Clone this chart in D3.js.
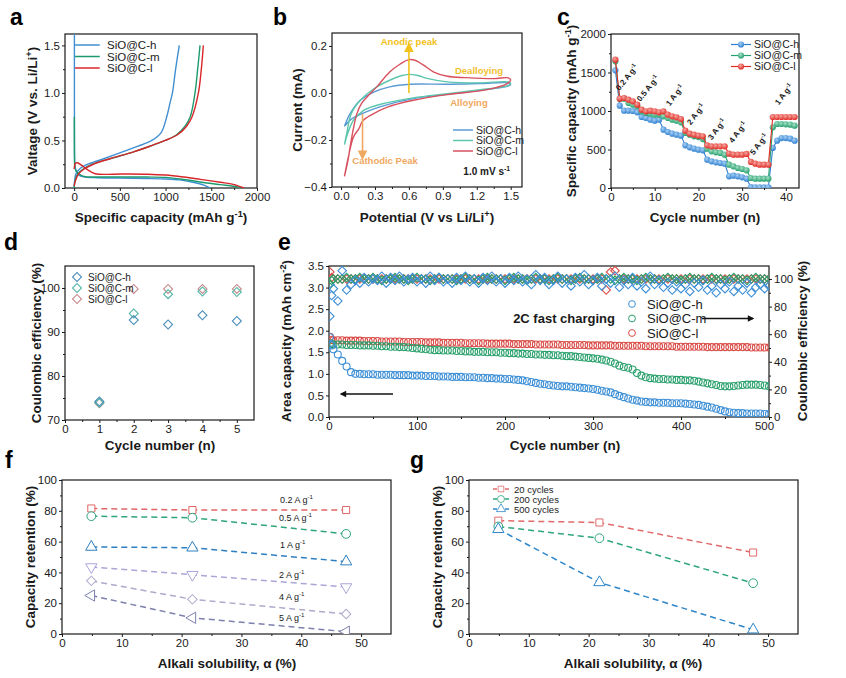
<!DOCTYPE html>
<html><head><meta charset="utf-8">
<script src="https://cdn.jsdelivr.net/npm/d3@7"></script>
<style>body{margin:0;background:#fff} svg{display:block;font-family:Arial,"Liberation Sans",sans-serif}</style>
</head><body><svg id="chart" width="846" height="678"></svg>
<script>
// ---------------- DATA ----------------
// a: galvanostatic curves [capacity, voltage]
const aHDis = [[3,1.62],[3,1.0],[4,0.5],[6,0.3],[12,0.22],[30,0.16],[60,0.13],[120,0.115],[250,0.108],[500,0.105],[800,0.1],[1000,0.095],[1150,0.085],[1300,0.06],[1420,0.03],[1490,0.0]];
const aMDis = [[2,0.75],[3,0.4],[5,0.25],[15,0.19],[50,0.15],[105,0.122],[250,0.116],[500,0.115],[800,0.115],[1000,0.112],[1200,0.09],[1380,0.063],[1600,0.035],[1740,0.018],[1850,0.0]];
const aLDis = [[0,0.2],[15,0.26],[36,0.265],[80,0.24],[150,0.19],[230,0.15],[530,0.148],[800,0.145],[1000,0.136],[1200,0.115],[1380,0.091],[1600,0.06],[1740,0.038],[1860,0.0]];
const aHChg = [[0,0],[6,0.08],[20,0.15],[60,0.2],[150,0.25],[300,0.3],[500,0.37],[700,0.44],[849,0.5],[950,0.58],[1013,0.75],[1050,0.9],[1075,1.0],[1110,1.25],[1150,1.5]];
const aMChg = [[0,0],[10,0.08],[40,0.15],[100,0.2],[200,0.25],[400,0.31],[650,0.38],[830,0.44],[995,0.5],[1120,0.56],[1213,0.65],[1270,0.75],[1322,1.0],[1351,1.25],[1377,1.5]];
const aLChg = [[0,0.02],[15,0.08],[50,0.15],[110,0.2],[210,0.25],[400,0.31],[650,0.38],[830,0.44],[995,0.5],[1130,0.56],[1230,0.65],[1290,0.75],[1359,1.0],[1391,1.25],[1413,1.5]];
const aTicksX = [0,500,1000,1500,2000];
const aTicksY = [0,0.5,1.0,1.5];

// b: CV loops [potential, current]
const bL = [[0.03,-0.355],[0.06,-0.29],[0.08,-0.23],[0.11,-0.15],[0.14,-0.088],[0.18,-0.045],[0.23,-0.017],[0.32,0.028],[0.43,0.089],[0.52,0.122],[0.6,0.142],[0.66,0.138],[0.73,0.118],[0.82,0.089],[0.94,0.071],[1.11,0.065],[1.35,0.061],[1.48,0.064],[1.5,0.055],[1.47,0.04],[1.29,0.014],[0.94,-0.007],[0.64,-0.031],[0.41,-0.06],[0.26,-0.095],[0.19,-0.12],[0.16,-0.15],[0.11,-0.187],[0.065,-0.272],[0.03,-0.355]];
const bM = [[0.03,-0.22],[0.05,-0.173],[0.09,-0.088],[0.17,-0.031],[0.29,0.018],[0.43,0.054],[0.53,0.073],[0.6,0.079],[0.68,0.074],[0.76,0.062],[0.94,0.047],[1.23,0.043],[1.48,0.047],[1.5,0.04],[1.47,0.03],[1.23,0.014],[0.94,-0.003],[0.64,-0.021],[0.35,-0.048],[0.2,-0.074],[0.11,-0.116],[0.06,-0.17],[0.03,-0.22]];
const bH = [[0.03,-0.142],[0.08,-0.088],[0.17,-0.031],[0.29,0.004],[0.43,0.026],[0.61,0.037],[0.94,0.037],[1.23,0.04],[1.48,0.043],[1.5,0.036],[1.47,0.028],[1.23,0.011],[0.94,-0.006],[0.64,-0.024],[0.35,-0.058],[0.2,-0.085],[0.1,-0.108],[0.03,-0.142]];
const bTicksX = [0,0.3,0.6,0.9,1.2,1.5];
const bTicksY = [-0.4,-0.2,0,0.2];

// c: rate capability
const cCycles = [1,2,3,4,5,6,7,8,9,10,11,12,13,14,15,16,17,18,19,20,21,22,23,24,25,26,27,28,29,30,31,32,33,34,35,36,37,38,39,40,41,42];
const cH = [1528,1069,1004,1004,1000,983,922,909,887,874,887,757,727,705,692,680,554,528,511,498,489,368,346,333,325,316,152,160,152,139,121,13,9,9,9,9,520,615,649,649,641,615];
const cM = [1645,1156,1160,1104,1082,1061,996,974,965,952,952,931,909,887,874,853,714,692,671,662,636,511,476,463,455,433,303,281,260,247,229,130,121,121,121,121,788,831,831,827,823,810];
const cL = [1667,1160,1169,1147,1126,1082,1017,996,1004,996,983,996,952,931,918,896,745,705,692,680,671,554,541,541,541,541,446,433,433,433,442,338,316,303,303,303,922,922,922,922,922,922];
const cRates = ["0.2","0.5","1","2","3","4","5","1"];

// d: initial coulombic efficiency
const dCycles = [1,2,3,4,5];
const dH = [74.2,92.7,91.7,93.8,92.5];
const dM = [73.9,94.2,98.6,99.2,99.1];
const dL = [73.8,99.8,99.8,99.8,99.8];

// e: long cycling at 2C
const eCycles = [1,3,5,10,15,20,25,30,35,40,
 45,50,55,60,65,70,75,80,85,90,
 95,100,105,110,115,120,125,130,135,140,
 145,150,155,160,165,170,175,180,185,190,
 195,200,205,210,215,220,225,230,235,240,
 245,250,255,260,265,270,275,280,285,290,
 295,300,305,310,315,320,325,330,335,340,
 345,350,355,360,365,370,375,380,385,390,
 395,400,405,410,415,420,425,430,435,440,
 445,450,455,460,465,470,475,480,485,490,
 495,500];
const eCapH = [1.85,1.66,1.57,1.45,1.30,1.17,1.04,1.00,1.00,0.99,
 0.99,0.99,0.98,0.98,0.98,0.98,0.97,0.97,0.97,0.97,
 0.96,0.96,0.96,0.95,0.95,0.95,0.94,0.94,0.94,0.93,
 0.93,0.93,0.92,0.92,0.92,0.91,0.91,0.90,0.90,0.89,
 0.89,0.88,0.88,0.87,0.86,0.85,0.83,0.81,0.79,0.77,
 0.76,0.74,0.73,0.72,0.71,0.71,0.70,0.69,0.68,0.67,
 0.66,0.65,0.63,0.61,0.59,0.57,0.53,0.49,0.46,0.43,
 0.40,0.38,0.36,0.35,0.34,0.34,0.33,0.33,0.33,0.32,
 0.32,0.32,0.31,0.30,0.29,0.28,0.26,0.24,0.22,0.19,
 0.16,0.13,0.11,0.10,0.09,0.09,0.08,0.08,0.08,0.08,
 0.07,0.07];
const eCapM = [1.70,1.69,1.68,1.68,1.68,1.67,1.67,1.67,1.66,1.66,
 1.66,1.65,1.65,1.64,1.64,1.63,1.63,1.62,1.62,1.61,
 1.60,1.59,1.58,1.57,1.56,1.55,1.55,1.54,1.54,1.54,
 1.53,1.53,1.52,1.52,1.51,1.51,1.51,1.50,1.50,1.50,
 1.49,1.49,1.48,1.48,1.47,1.47,1.46,1.46,1.45,1.45,
 1.44,1.44,1.43,1.43,1.42,1.41,1.41,1.40,1.39,1.38,
 1.37,1.36,1.35,1.33,1.31,1.28,1.24,1.19,1.16,1.14,
 1.10,1.02,0.96,0.92,0.90,0.89,0.88,0.88,0.87,0.87,
 0.86,0.86,0.85,0.85,0.84,0.82,0.80,0.78,0.76,0.74,
 0.72,0.71,0.71,0.72,0.73,0.74,0.75,0.75,0.75,0.74,
 0.73,0.71];
const eCapL = [1.86,1.79,1.78,1.78,1.78,1.77,1.77,1.77,1.77,1.76,
 1.76,1.76,1.76,1.75,1.75,1.75,1.75,1.75,1.74,1.74,
 1.74,1.74,1.74,1.73,1.73,1.73,1.73,1.72,1.72,1.72,
 1.72,1.72,1.71,1.71,1.71,1.71,1.71,1.70,1.70,1.70,
 1.70,1.70,1.70,1.69,1.69,1.69,1.69,1.69,1.68,1.68,
 1.68,1.68,1.68,1.68,1.67,1.67,1.67,1.67,1.67,1.67,
 1.66,1.66,1.66,1.66,1.66,1.66,1.65,1.65,1.65,1.65,
 1.65,1.65,1.65,1.64,1.64,1.64,1.64,1.64,1.64,1.64,
 1.63,1.63,1.63,1.63,1.63,1.63,1.63,1.62,1.62,1.62,
 1.62,1.62,1.62,1.62,1.62,1.62,1.62,1.61,1.61,1.61,
 1.61,1.61];
const eCEH = [73,88,93,84,106,92,96,99,97,101,
 98,100,99,102,97,101,99,102,98,100,
 101,98,100,97,102,99,101,98,100,97,
 101,99,102,98,100,97,101,99,102,98,
 100,97,101,99,102,98,100,96,103,99,
 101,96,99,102,97,100,95,101,98,103,
 96,99,101,95,100,97,102,94,99,96,
 101,95,98,93,102,96,99,94,97,92,
 98,93,96,91,97,94,99,92,95,90,
 96,93,98,91,95,92,97,90,94,96,
 93,95];
const eCEM = [96,99,100,100,100,101,100,100,101,100,
 100,101,100,99,100,100,101,100,100,99,
 100,101,100,100,99,100,101,100,100,100,
 99,100,101,100,100,99,100,101,100,100,
 100,99,100,101,100,100,99,100,101,100,
 100,99,100,101,100,100,99,100,101,100,
 100,99,100,101,100,100,99,100,101,100,
 100,99,100,101,100,100,99,100,101,100,
 100,99,100,101,100,100,99,100,101,100,
 100,99,100,101,100,100,99,100,101,100,
 100,100];
const eCEL = [105,101,100,100,100,100,100,100,100,100,
 100,100,100,100,100,100,100,100,100,100,
 100,100,100,100,100,100,100,100,100,100,
 100,100,100,100,100,100,100,100,100,100,
 100,100,100,100,100,100,100,100,100,100,
 100,100,100,100,100,100,100,100,100,100,
 100,100,100,100,92,105,106,100,100,100,
 100,100,100,100,100,100,100,100,100,100,
 100,100,100,100,100,100,100,100,100,100,
 100,100,100,100,100,100,100,100,100,100,
 100,100];

// f: capacity retention vs alkali solubility at different rates
const fAlpha = [4.9,21.8,47.5];
const f02 = [81.5,80.5,80.5];
const f05 = [76.5,75.5,65];
const f1 = [56.5,56,47];
const f2 = [43.5,38.5,30.5];
const f4 = [34.5,22.5,13];
const f5 = [25,10.5,1.5];
const fLabels = ["0.2","0.5","1","2","4","5"];

// g: capacity retention vs alkali solubility after cycles
const gAlpha = [4.9,21.8,47.5];
const g20 = [73.6,72.4,52.9];
const g200 = [69.8,62.2,33];
const g500 = [68,33.5,2.8];
const gLabels = ["20 cycles","200 cycles","500 cycles"];
const seriesNames = ["SiO@C-h","SiO@C-m","SiO@C-l"];

// ---------------- HELPERS ----------------
const svg = d3.select('#chart');
const defs = svg.append('defs');
let clipN = 0;
const INK = '#1a1a1a';

function rich(t, parts, size){
  let shift = 0;
  parts.forEach(([s,k]) => {
    const target = k === 'sup' ? -size*0.4 : 0;
    const ts = t.append('tspan').text(s).attr('dy', target - shift);
    if (k === 'sup') ts.attr('font-size', size*0.68);
    shift = target;
  });
}
function label(x, y, parts, o = {}){
  const size = o.size || 12;
  const t = svg.append('text').attr('x', x).attr('y', y).attr('font-size', size)
    .attr('font-weight', o.bold ? 'bold' : 'normal').attr('text-anchor', o.anchor || 'start')
    .attr('fill', o.fill || INK);
  if (o.rot != null) t.attr('transform', `rotate(${o.rot},${x},${y})`);
  rich(t, typeof parts === 'string' ? [[parts,'']] : parts, size);
  return t;
}
function styleAxis(s, fs){
  s.select('.domain').remove();
  s.attr('font-size', fs).attr('font-family', 'Arial, "Liberation Sans", sans-serif');
  s.selectAll('text').attr('fill', INK);
  s.selectAll('line').attr('stroke', INK).attr('stroke-width', 1);
}
function panel(o){
  const x = d3.scaleLinear().domain(o.xd).range([o.x0, o.x1]);
  const y = d3.scaleLinear().domain(o.yd).range([o.y1, o.y0]);
  const fs = o.fs || 11.5;
  const g = svg.append('g');
  const xg = g.append('g').attr('transform', `translate(0,${o.y1})`)
    .call(d3.axisBottom(x).tickValues(o.xt).tickFormat(o.xf || (d => d)).tickSize(3).tickPadding(1.5)).call(s => styleAxis(s, fs));
  if (o.xm) g.append('g').attr('transform', `translate(0,${o.y1})`)
    .call(d3.axisBottom(x).tickValues(o.xm).tickFormat('').tickSize(2)).call(s => styleAxis(s, fs));
  g.append('g').attr('transform', `translate(${o.x0},0)`)
    .call(d3.axisLeft(y).tickValues(o.yt).tickFormat(o.yf || (d => d)).tickSize(3).tickPadding(2)).call(s => styleAxis(s, fs));
  if (o.ym) g.append('g').attr('transform', `translate(${o.x0},0)`)
    .call(d3.axisLeft(y).tickValues(o.ym).tickFormat('').tickSize(2)).call(s => styleAxis(s, fs));
  g.append('rect').attr('x', o.x0).attr('y', o.y0).attr('width', o.x1 - o.x0).attr('height', o.y1 - o.y0)
    .attr('fill', 'none').attr('stroke', INK).attr('stroke-width', 1.2);
  const id = 'clip' + (clipN++);
  defs.append('clipPath').attr('id', id).append('rect')
    .attr('x', o.x0).attr('y', o.y0).attr('width', o.x1 - o.x0).attr('height', o.y1 - o.y0);
  const plot = svg.append('g').attr('clip-path', `url(#${id})`);
  return {x, y, plot, g, xg};
}
const f1d = d3.format('.1f');
const sup = s => [s, 'sup'];
const nrm = s => [s, ''];

// panel letters
[['a',10,25],['b',273,25],['c',557,25],['d',4,250],['e',278,250],['f',5,468],['g',410,468]]
  .forEach(([t,x,y]) => label(x, y, t, {size: 23, bold: true, fill: '#000'}));

// ---------------- PANEL A ----------------
{
  const P = panel({x0:65, x1:257, y0:34, y1:188, xd:[-100,2000], yd:[0,1.62],
    xt:aTicksX, xm:[250,750,1250,1750], yt:aTicksY, ym:[0.25,0.75,1.25], yf:f1d});
  const line = d3.line().x(d => P.x(d[0])).y(d => P.y(d[1])).curve(d3.curveCatmullRom.alpha(0.5));
  const cols = ['#3f8fd2','#1d9a6c','#d8262b'];
  [[aHDis,aHChg],[aMDis,aMChg],[aLDis,aLChg]].forEach((pair, i) => {
    pair.forEach(arr => P.plot.append('path').attr('d', line(arr)).attr('fill','none')
      .attr('stroke', cols[i]).attr('stroke-width', 1.4));
  });
  seriesNames.forEach((n, i) => {
    const yy = 45 + i*11.5;
    svg.append('line').attr('x1', P.x(10)).attr('x2', P.x(280)).attr('y1', yy).attr('y2', yy)
      .attr('stroke', cols[i]).attr('stroke-width', 1.5);
    label(107, yy + 4, n, {size: 11.5});
  });
  label(161, 222, [nrm('Specific capacity (mAh g'), sup('-1'), nrm(')')], {size: 13.5, bold: true, anchor: 'middle'});
  label(37, 111, [nrm('Valtage (V vs. Li/Li'), sup('+'), nrm(')')], {size: 13.5, bold: true, anchor: 'middle', rot: -90});
}

// ---------------- PANEL B ----------------
{
  const P = panel({x0:332, x1:522, y0:33, y1:187, xd:[-0.08,1.6], yd:[-0.4,0.255],
    xt:bTicksX, xm:[0.15,0.45,0.75,1.05,1.35], xf:f1d, yt:bTicksY, ym:[-0.3,-0.1,0.1], yf:f1d});
  const line = d3.line().x(d => P.x(d[0])).y(d => P.y(d[1])).curve(d3.curveCatmullRom.alpha(0.5));
  const cols = ['#5b9bd5','#5cc6ad','#d9505e'];
  [bH, bM, bL].forEach((arr, i) => P.plot.append('path').attr('d', line(arr)).attr('fill','none')
    .attr('stroke', cols[i]).attr('stroke-width', 1.4));
  const yel = '#f3c21a', org = '#f0a860';
  defs.append('marker').attr('id','arrY').attr('viewBox','0 0 10 10').attr('refX',5).attr('refY',5)
    .attr('markerWidth',6).attr('markerHeight',7).attr('orient','auto-start-reverse')
    .append('path').attr('d','M0,0 L10,5 L0,10 z').attr('fill', yel);
  defs.append('marker').attr('id','arrO').attr('viewBox','0 0 10 10').attr('refX',5).attr('refY',5)
    .attr('markerWidth',6).attr('markerHeight',7).attr('orient','auto-start-reverse')
    .append('path').attr('d','M0,0 L10,5 L0,10 z').attr('fill', org);
  svg.append('line').attr('x1', P.x(0.6)).attr('x2', P.x(0.6)).attr('y1', P.y(0)).attr('y2', P.y(0.195))
    .attr('stroke', yel).attr('stroke-width', 1.6).attr('marker-end','url(#arrY)');
  svg.append('line').attr('x1', P.x(0.19)).attr('x2', P.x(0.19)).attr('y1', P.y(-0.09)).attr('y2', P.y(-0.265))
    .attr('stroke', org).attr('stroke-width', 1.6).attr('marker-end','url(#arrO)');
  label(409, 45, 'Anodic peak', {size: 9.5, bold: true, anchor: 'middle', fill: yel});
  label(479, 74, 'Dealloying', {size: 9.5, bold: true, anchor: 'middle', fill: '#f0c030'});
  label(469, 106, 'Alloying', {size: 9.5, bold: true, anchor: 'middle', fill: org});
  label(385, 164, 'Cathodic Peak', {size: 9.5, bold: true, anchor: 'middle', fill: org});
  seriesNames.forEach((n, i) => {
    const yy = 130 + i*10.5;
    svg.append('line').attr('x1', 453).attr('x2', 473).attr('y1', yy).attr('y2', yy)
      .attr('stroke', cols[i]).attr('stroke-width', 1.5);
    label(476, yy + 3.5, n, {size: 10.5});
  });
  label(510, 175, [nrm('1.0 mV s'), sup('-1')], {size: 10, bold: true, anchor: 'end'});
  label(427, 222, [nrm('Potential (V vs Li/Li'), sup('+'), nrm(')')], {size: 13.5, bold: true, anchor: 'middle'});
  label(302, 110, 'Current (mA)', {size: 13.5, bold: true, anchor: 'middle', rot: -90});
}

// ---------------- PANEL C ----------------
{
  const P = panel({x0:611, x1:799, y0:34, y1:188, xd:[0,43], yd:[0,2000],
    xt:[0,10,20,30,40], xm:[5,15,25,35], yt:[0,500,1000,1500,2000], ym:[250,750,1250,1750]});
  const cols = ['#2f80d0','#26a06f','#e02b24'];
  const lights = ['#a9d0f5','#a5e0c6','#f6a7a2'];
  cols.forEach((c, i) => {
    const gr = defs.append('radialGradient').attr('id','rg'+i).attr('cx','40%').attr('cy','35%').attr('r','65%');
    gr.append('stop').attr('offset','0%').attr('stop-color', lights[i]);
    gr.append('stop').attr('offset','100%').attr('stop-color', c);
  });
  const line = d3.line().x((d, j) => P.x(cCycles[j])).y(d => P.y(d));
  [cH, cM, cL].forEach((arr, i) => {
    P.plot.append('path').attr('d', line(arr)).attr('fill','none').attr('stroke', cols[i]).attr('stroke-width', 1.1);
    P.plot.selectAll(null).data(arr).join('circle').attr('cx', (d, j) => P.x(cCycles[j])).attr('cy', d => P.y(d))
      .attr('r', 3.1).attr('fill', `url(#rg${i})`);
  });
  const rPos = [[629,79],[650,90],[677,97],[698,116],[719,131],[740,134],[761,146],[786,96]];
  cRates.forEach((r, i) => label(rPos[i][0], rPos[i][1], [nrm(r + ' A g'), sup('-1')],
    {size: 8, bold: true, anchor: 'middle', rot: -52}));
  seriesNames.forEach((n, i) => {
    const yy = 44.5 + i*11;
    svg.append('line').attr('x1', 731).attr('x2', 751).attr('y1', yy).attr('y2', yy)
      .attr('stroke', cols[i]).attr('stroke-width', 1.2);
    svg.append('circle').attr('cx', 741).attr('cy', yy).attr('r', 3.1).attr('fill', `url(#rg${i})`);
    label(754, yy + 3.8, n, {size: 10.5});
  });
  label(705, 222, 'Cycle number (n)', {size: 13.5, bold: true, anchor: 'middle'});
  label(576, 111, [nrm('Specific capacity (mAh g'), sup('-1'), nrm(')')], {size: 13.5, bold: true, anchor: 'middle', rot: -90});
}

// ---------------- PANEL D ----------------
{
  const P = panel({x0:65, x1:254, y0:266, y1:420, xd:[0,5.5], yd:[70,105],
    xt:[0,1,2,3,4,5], xm:[0.5,1.5,2.5,3.5,4.5], yt:[70,80,90,100], ym:[75,85,95]});
  const cols = ['#4a8db8','#52b8a8','#c88a8c'];
  const dia = d3.symbol(d3.symbolSquare, 40)();
  [dL, dM, dH].forEach((arr, k) => {
    const i = 2 - k;
    P.plot.selectAll(null).data(arr).join('path').attr('d', dia)
      .attr('transform', (d, j) => `translate(${P.x(dCycles[j])},${P.y(d)}) rotate(45)`)
      .attr('fill','none').attr('stroke', cols[i]).attr('stroke-width', 1.1);
  });
  seriesNames.forEach((n, i) => {
    const yy = 277 + i*11;
    svg.append('path').attr('d', dia).attr('transform', `translate(77,${yy}) rotate(45)`)
      .attr('fill','none').attr('stroke', cols[i]).attr('stroke-width', 1.1);
    label(88, yy + 3.5, n, {size: 10});
  });
  label(160, 450, 'Cycle number (n)', {size: 13.5, bold: true, anchor: 'middle'});
  label(41, 343, 'Coulombic efficiency (%)', {size: 13.5, bold: true, anchor: 'middle', rot: -90});
}

// ---------------- PANEL E ----------------
{
  const P = panel({x0:329, x1:769, y0:266, y1:417, xd:[0,500], yd:[0,3.5],
    xt:[0,100,200,300,400,500], xm:[50,150,250,350,450], yt:[0,0.5,1,1.5,2,2.5,3,3.5], yf:f1d});
  // nudge last bottom label so it does not collide with the right-axis "0"
  P.xg.selectAll('.tick text').filter(d => d === 500).attr('dx', -5);
  const yR = d3.scaleLinear().domain([0,109.4]).range([417,266]);
  svg.append('g').attr('transform','translate(769,0)')
    .call(d3.axisRight(yR).tickValues([0,20,40,60,80,100]).tickSize(3).tickPadding(2)).call(s => styleAxis(s, 11.5));
  svg.append('g').attr('transform','translate(769,0)')
    .call(d3.axisRight(yR).tickValues([10,30,50,70,90]).tickFormat('').tickSize(2)).call(s => styleAxis(s, 11.5));
  const cols = ['#3d8fd6','#2aa06c','#d94a45'];
  const dia = d3.symbol(d3.symbolSquare, 36)();
  [[eCEL,2],[eCEM,1],[eCEH,0]].forEach(([arr,i]) => {
    P.plot.selectAll(null).data(arr).join('path').attr('d', dia)
      .attr('transform', (d, j) => `translate(${P.x(eCycles[j])},${yR(d)}) rotate(45)`)
      .attr('fill','none').attr('stroke', cols[i]).attr('stroke-width', 1.1);
  });
  [[eCapL,2],[eCapM,1],[eCapH,0]].forEach(([arr,i]) => {
    P.plot.selectAll(null).data(arr).join('circle')
      .attr('cx', (d, j) => P.x(eCycles[j])).attr('cy', d => P.y(d)).attr('r', 3.5)
      .attr('fill','none').attr('stroke', cols[i]).attr('stroke-width', 1.1);
  });
  seriesNames.forEach((n, i) => {
    const yy = 304 + i*14.5;
    svg.append('circle').attr('cx', 632).attr('cy', yy).attr('r', 3.4).attr('fill','none')
      .attr('stroke', cols[i]).attr('stroke-width', 1);
    label(647, yy + 4.5, n, {size: 13});
  });
  label(615, 323, '2C fast charging', {size: 13, bold: true, anchor: 'end'});
  defs.append('marker').attr('id','arrK').attr('viewBox','0 0 10 10').attr('refX',8).attr('refY',5)
    .attr('markerWidth',7).attr('markerHeight',5).attr('orient','auto-start-reverse')
    .append('path').attr('d','M0,0 L10,5 L0,10 z').attr('fill', '#111');
  svg.append('line').attr('x1', 702).attr('x2', 753).attr('y1', 318.5).attr('y2', 318.5)
    .attr('stroke','#111').attr('stroke-width',1.3).attr('marker-end','url(#arrK)');
  svg.append('line').attr('x1', 393).attr('x2', 341).attr('y1', 394).attr('y2', 394)
    .attr('stroke','#111').attr('stroke-width',1.3).attr('marker-end','url(#arrK)');
  label(565, 450, 'Cycle number (n)', {size: 13.5, bold: true, anchor: 'middle'});
  label(291, 341, [nrm('Area capacity (mAh cm'), sup('-2'), nrm(')')], {size: 13.5, bold: true, anchor: 'middle', rot: -90});
  label(807, 341, 'Coulombic efficiency (%)', {size: 13.5, bold: true, anchor: 'middle', rot: -90});
}

// ---------------- PANEL F & G ----------------
function sym(type, size, rot){
  return {p: d3.symbol(type, size)(), rot};
}
function retention(o, sets){
  const P = panel({x0:o.x0, x1:o.x1, y0:480, y1:634, xd:[0,55], yd:[0,100],
    xt:[0,10,20,30,40,50], xm:[5,15,25,35,45], yt:[0,20,40,60,80,100], ym:[10,30,50,70,90]});
  const line = d3.line().x((d, j) => P.x(o.alpha[j])).y(d => P.y(d));
  sets.forEach(s => {
    P.plot.append('path').attr('d', line(s.data)).attr('fill','none').attr('stroke', s.col)
      .attr('stroke-width', 1.5).attr('stroke-dasharray','6,4');
    P.plot.selectAll(null).data(s.data).join('path').attr('d', s.m.p)
      .attr('transform', (d, j) => `translate(${P.x(o.alpha[j])},${P.y(d)}) rotate(${s.m.rot})`)
      .attr('fill','#fff').attr('stroke', s.col).attr('stroke-width', 1);
  });
  return P;
}
{
  const sets = [
    {data:f02, col:'#e06666', m:sym(d3.symbolSquare, 50, 0)},
    {data:f05, col:'#2ea47a', m:sym(d3.symbolCircle, 60, 0)},
    {data:f1, col:'#2d7fc1', m:sym(d3.symbolTriangle, 55, 0)},
    {data:f2, col:'#aaa6d8', m:sym(d3.symbolTriangle, 55, 180)},
    {data:f4, col:'#aeaacc', m:sym(d3.symbolSquare, 45, 45)},
    {data:f5, col:'#7d80ad', m:sym(d3.symbolTriangle, 55, -90)}
  ];
  retention({x0:62, x1:391, alpha:fAlpha}, sets);
  const lp = [[280,503],[279,521],[280,548],[279,578],[279,600],[279,621]];
  fLabels.forEach((t, i) => label(lp[i][0], lp[i][1], [nrm(t + ' A g'), sup('-1')], {size: 9}));
  label(227, 668, 'Alkali solubility, α (%)', {size: 13.5, bold: true, anchor: 'middle'});
  label(35, 557, 'Capacity retention (%)', {size: 13.5, bold: true, anchor: 'middle', rot: -90});
}
{
  const sets = [
    {data:g20, col:'#e06a6a', m:sym(d3.symbolSquare, 50, 0)},
    {data:g200, col:'#2fa67a', m:sym(d3.symbolCircle, 60, 0)},
    {data:g500, col:'#2e86c8', m:sym(d3.symbolTriangle, 55, 0)}
  ];
  retention({x0:469, x1:798, alpha:gAlpha}, sets);
  gLabels.forEach((t, i) => {
    const yy = 489 + i*10;
    svg.append('line').attr('x1', 493).attr('x2', 509).attr('y1', yy).attr('y2', yy)
      .attr('stroke', sets[i].col).attr('stroke-width', 1.5).attr('stroke-dasharray','4,2');
    svg.append('path').attr('d', sets[i].m.p).attr('transform', `translate(501,${yy}) scale(0.8)`)
      .attr('fill','#fff').attr('stroke', sets[i].col).attr('stroke-width', 1);
    label(514, yy + 3.5, t, {size: 9.5});
  });
  label(633, 668, 'Alkali solubility, α (%)', {size: 13.5, bold: true, anchor: 'middle'});
  label(442, 557, 'Capacity retention (%)', {size: 13.5, bold: true, anchor: 'middle', rot: -90});
}
</script></body></html>
